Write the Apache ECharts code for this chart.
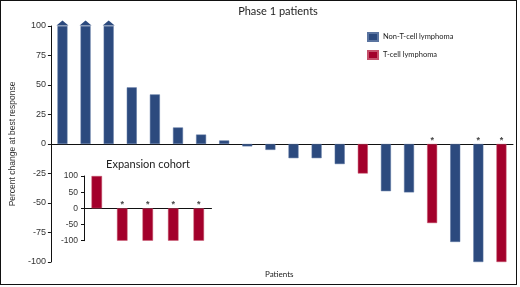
<!DOCTYPE html>
<html><head><meta charset="utf-8">
<script src="https://cdn.jsdelivr.net/npm/echarts@6/dist/echarts.min.js"></script>
<style>
html,body{margin:0;padding:0;background:#fff;}
#frame{position:absolute;left:0;top:0;width:515px;height:283px;border:1.5px solid #111;}
#c{position:absolute;left:0;top:0;width:520px;height:287px;}
</style></head><body>
<div id="c"></div><div id="frame"></div>
<script>
// Phase 1 patients (main chart)
const mainCategories = ['P1','P2','P3','P4','P5','P6','P7','P8','P9','P10','P11','P12','P13','P14','P15','P16','P17','P18','P19','P20'];
const mainValues = [100,100,100,48,42,14,8,3,-2,-5,-12,-12,-17,-25,-40,-41,-67,-83,-100,-100];
const mainType =   ['N','N','N','N','N','N','N','N','N','N','N','N','N','T','N','N','T','N','N','T'];
const mainCapped = [1,1,1,0,0,0,0,0,0,0,0,0,0,0,0,0,0,0,0,0];
const mainStar =   [0,0,0,0,0,0,0,0,0,0,0,0,0,0,0,0,1,0,1,1];
const mainTicks = [-100,-75,-50,-25,0,25,50,75,100];
// Expansion cohort (inset)
const insetCategories = ['E1','E2','E3','E4','E5'];
const insetValues = [100,-100,-100,-100,-100];
const insetStar = [0,1,1,1,1];
const insetTicks = [-100,-50,0,50,100];

const BLUE = '#2C4A7E', RED = '#A3002B';
const FONT = 'Lato, "Open Sans", sans-serif';
const AXFONT = '"Liberation Sans", Arial, sans-serif';

const chart = echarts.init(document.getElementById('c'), null, {renderer:'canvas'});

const nonT = mainValues.map((v,i)=> mainType[i]==='N' ? v : '-');
const tCell = mainValues.map((v,i)=> mainType[i]==='T' ? v : '-');
const capPoints = mainValues.map((v,i)=> mainCapped[i] ? {coord:[i, v]} : null).filter(Boolean);
const mainStarData = mainStar.map((s,i)=> s ? [i,0] : null).filter(Boolean);
const insetStarData = insetStar.map((s,i)=> s ? [i,0] : null).filter(Boolean);

const starLabel = {show:true, formatter:'*', position:'top', distance:-1, fontSize:9, fontWeight:'bold', color:'#111', fontFamily:AXFONT};

chart.setOption({
  animation:false,
  title:[
    {text:'Phase 1 patients', left:278, top:6, padding:0, textAlign:'center', textStyle:{fontFamily:FONT, fontSize:11, fontWeight:'normal', color:'#222'}},
    {text:'Expansion cohort', left:148, top:159, padding:0, textAlign:'center', textStyle:{fontFamily:FONT, fontSize:11, fontWeight:'normal', color:'#222'}},
    {text:'Patients', left:265, top:270, padding:0, textStyle:{fontFamily:FONT, fontSize:8, fontWeight:'normal', color:'#222'}}
  ],
  legend:{
    data:['Non-T-cell lymphoma','T-cell lymphoma'],
    orient:'vertical', left:367, top:32, padding:0, itemWidth:10, itemHeight:8, itemGap:8,
    icon:'rect',
    textStyle:{fontFamily:FONT, fontSize:7.5, color:'#222'}
  },
  grid:[
    {left:44, right:7, top:26, bottom:25},
    {left:84, width:127.5, top:176, bottom:46.3}
  ],
  xAxis:[
    {type:'category', gridIndex:0, data:mainCategories, axisLine:{onZero:true, lineStyle:{color:'#111', width:1}}, axisTick:{show:false}, axisLabel:{show:false}},
    {type:'category', gridIndex:1, data:insetCategories, axisLine:{onZero:true, lineStyle:{color:'#111', width:1}}, axisTick:{show:false}, axisLabel:{show:false}}
  ],
  yAxis:[
    {type:'value', gridIndex:0, min:-100, max:100, interval:25, splitLine:{show:false},
     axisLine:{show:true, lineStyle:{color:'#111'}}, axisTick:{show:true, length:3, lineStyle:{color:'#111'}},
     axisLabel:{margin:5, fontSize:9, color:'#333', fontFamily:AXFONT},
     name:'Percent change at best response', nameLocation:'middle', nameGap:26,
     nameTextStyle:{fontSize:8.5, color:'#333', fontFamily:AXFONT}},
    {type:'value', gridIndex:1, min:-100, max:100, interval:50, splitLine:{show:false},
     axisLine:{show:true, lineStyle:{color:'#111'}}, axisTick:{show:true, length:3, lineStyle:{color:'#111'}},
     axisLabel:{margin:6, fontSize:8.5, color:'#333', fontFamily:AXFONT}}
  ],
  series:[
    {name:'Non-T-cell lymphoma', type:'bar', xAxisIndex:0, yAxisIndex:0, data:nonT, barWidth:10, barGap:'-100%',
     itemStyle:{color:BLUE, borderColor:'#5a74a0', borderWidth:0.5},
     markPoint:{symbol:'triangle', symbolSize:[12,5], symbolOffset:[0,-3], silent:true, label:{show:false}, itemStyle:{color:BLUE}, data:capPoints}},
    {name:'T-cell lymphoma', type:'bar', xAxisIndex:0, yAxisIndex:0, data:tCell, barWidth:10, barGap:'-100%',
     itemStyle:{color:RED, borderColor:'#c4506a', borderWidth:0.5}},
    {name:'stars', type:'scatter', xAxisIndex:0, yAxisIndex:0, data:mainStarData, symbolSize:0, label:starLabel, silent:true},
    {name:'T-cell lymphoma', type:'bar', xAxisIndex:1, yAxisIndex:1, data:insetValues, barWidth:10.5,
     itemStyle:{color:RED, borderColor:'#c4506a', borderWidth:0.5}},
    {name:'stars2', type:'scatter', xAxisIndex:1, yAxisIndex:1, data:insetStarData, symbolSize:0, label:starLabel, silent:true}
  ]
});
</script></body></html>
